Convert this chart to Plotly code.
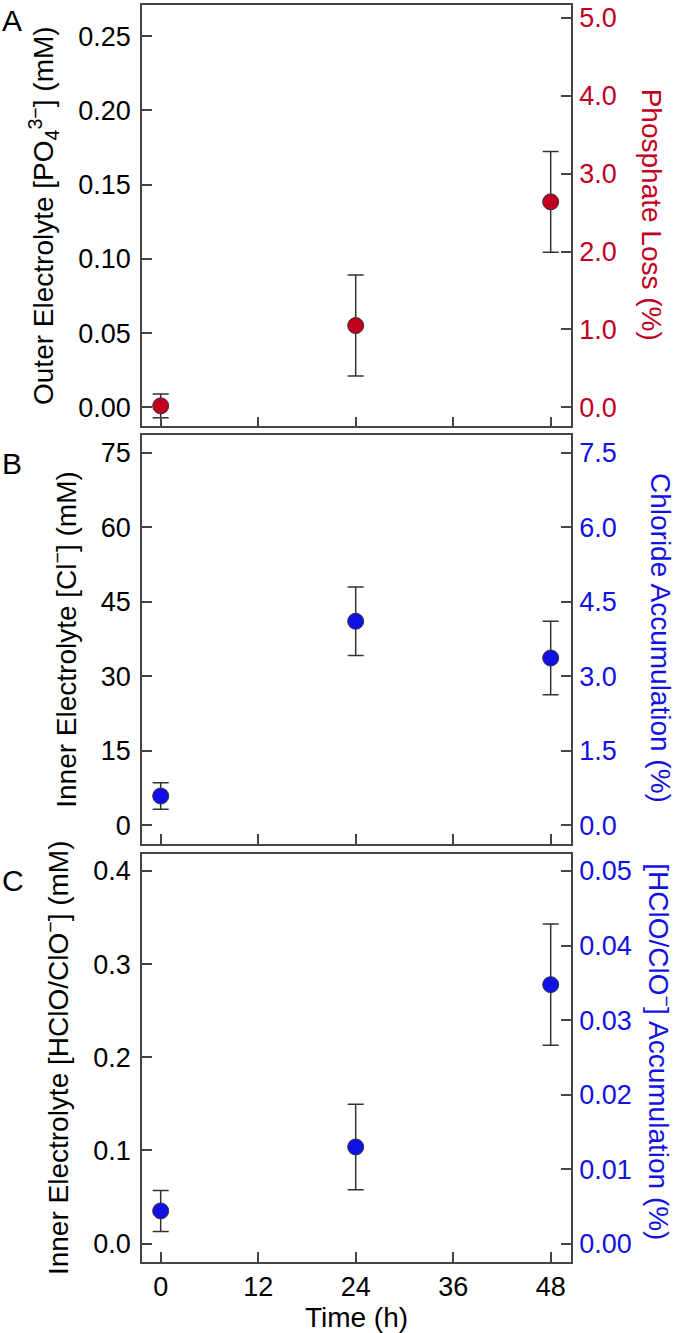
import plotly.graph_objects as go

# values
time_h = [0, 24, 48]
x_ticks = [0, 12, 24, 36, 48]

phosphate_mM = [0.001, 0.0551, 0.1384]
phosphate_err = [0.008, 0.034, 0.034]

chloride_mM = [5.9, 41.1, 33.7]
chloride_err = [2.65, 6.9, 7.4]

hclo_mM = [0.035, 0.1037, 0.278]
hclo_err = [0.022, 0.046, 0.065]

RED = '#C0001E'
BLUE = '#1111E6'
AXC = '#444444'
FONT = 'Arial, Liberation Sans, sans-serif'
TICK_SIZE = 27
TITLE_SIZE = 28

fig = go.Figure()


def add_points(vals, errs, color, xa, ya):
    fig.add_trace(go.Scatter(x=time_h, y=vals, mode='markers',
                             xaxis=xa, yaxis=ya, showlegend=False,
                             error_y=dict(type='data', array=errs, visible=True,
                                          color='#333333', thickness=1.5, width=8),
                             marker=dict(size=16, color=color,
                                         line=dict(color='#333333', width=1))))


def blank(xa, ya):
    # empty trace so the right-hand axis gets drawn
    fig.add_trace(go.Scatter(x=[None], y=[None], xaxis=xa, yaxis=ya,
                             showlegend=False, hoverinfo='skip'))


add_points(phosphate_mM, phosphate_err, RED, 'x', 'y')
blank('x', 'y2')
add_points(chloride_mM, chloride_err, BLUE, 'x2', 'y3')
blank('x2', 'y4')
add_points(hclo_mM, hclo_err, BLUE, 'x3', 'y5')
blank('x3', 'y6')

dom_a = [0.6648, 1.0]
dom_b = [0.3328, 0.6577]
dom_c = [0.0, 0.3249]

xcommon = dict(range=[-2.3, 50.5], tickvals=x_ticks, ticks='inside', ticklen=10,
               tickwidth=1.5, tickcolor=AXC, showline=True, linecolor=AXC,
               linewidth=1.5, mirror=True, showgrid=False, zeroline=False,
               ticklabelstandoff=0,
               tickfont=dict(size=TICK_SIZE, color='black'))


def left(rng, dom, anchor, vals, fmt, title):
    return dict(range=rng, domain=dom, anchor=anchor, tickvals=vals,
                tickformat=fmt, ticks='inside', ticklen=10, tickwidth=1.5,
                tickcolor=AXC, showline=True, linecolor=AXC, linewidth=1.5,
                showgrid=False, zeroline=False, ticklabelstandoff=4,
                tickfont=dict(size=TICK_SIZE, color='black'),
                title=dict(text=title, font=dict(size=TITLE_SIZE, color='black'),
                           standoff=16))


def right(rng, over, anchor, vals, fmt, color):
    return dict(range=rng, overlaying=over, anchor=anchor, side='right',
                tickvals=vals, tickformat=fmt, ticks='inside', ticklen=10,
                tickwidth=1.5, tickcolor=AXC, showline=True, linecolor=AXC,
                linewidth=1.5, showgrid=False, zeroline=False, ticklabelstandoff=1,
                tickfont=dict(size=TICK_SIZE, color=color))


fig.update_layout(
    width=677, height=1333,
    margin=dict(l=142, r=106, t=3, b=71),
    paper_bgcolor='white', plot_bgcolor='white',
    font=dict(family=FONT, color='black'),
    xaxis=dict(xcommon, anchor='y', showticklabels=False),
    xaxis2=dict(xcommon, anchor='y3', matches='x', showticklabels=False),
    xaxis3=dict(xcommon, anchor='y5', matches='x',
                title=dict(text='Time (h)', font=dict(size=TITLE_SIZE), standoff=0)),
    yaxis=left([-0.0128, 0.271], dom_a, 'x', [0, 0.05, 0.10, 0.15, 0.20, 0.25], '.2f',
               'Outer Electrolyte [PO<sub>4</sub><sup>3−</sup>] (mM)'),
    yaxis2=right([-0.244, 5.167], 'y', 'x', [0, 1, 2, 3, 4, 5], '.1f', RED),
    yaxis3=left([-3.7, 78.56], dom_b, 'x2', [0, 15, 30, 45, 60, 75], 'd',
                'Inner Electrolyte [Cl<sup>−</sup>] (mM)'),
    yaxis4=right([-0.37, 7.856], 'y3', 'x2', [0, 1.5, 3, 4.5, 6, 7.5], '.1f', BLUE),
    yaxis5=left([-0.0198, 0.4187], dom_c, 'x3', [0, 0.1, 0.2, 0.3, 0.4], '.1f',
                'Inner Electrolyte [HClO/ClO<sup>−</sup>] (mM)'),
    yaxis6=right([-0.00247, 0.05234], 'y5', 'x3', [0, 0.01, 0.02, 0.03, 0.04, 0.05],
                 '.2f', BLUE),
)

# right-hand titles read top to bottom
right_titles = [('Phosphate Loss (%)', RED, 651, 213),
                ('Chloride Accumulation (%)', BLUE, 660, 637),
                ('[HClO/ClO<sup>−</sup>] Accumulation (%)', BLUE, 660, 1051)]
for txt, col, xpx, ypx in right_titles:
    fig.add_annotation(text=txt, xref='paper', yref='paper',
                       x=(xpx - 142) / 429, y=(1262 - ypx) / 1259,
                       xanchor='center', yanchor='middle', textangle=90,
                       showarrow=False, font=dict(size=TITLE_SIZE, color=col))

# panel letters
for letter, ypx in [('A', 0), ('B', 444), ('C', 861)]:
    fig.add_annotation(text=letter, xref='paper', yref='paper',
                       x=(0 - 142) / 429, y=(1262 - ypx) / 1259,
                       xanchor='left', yanchor='top', showarrow=False,
                       font=dict(size=30, color='black'))

# drop the browser's default body margin so the figure sits at the page corner
fig.write_html('out.html', config={'displayModeBar': False},
               post_script="document.body.style.margin='0px';")
